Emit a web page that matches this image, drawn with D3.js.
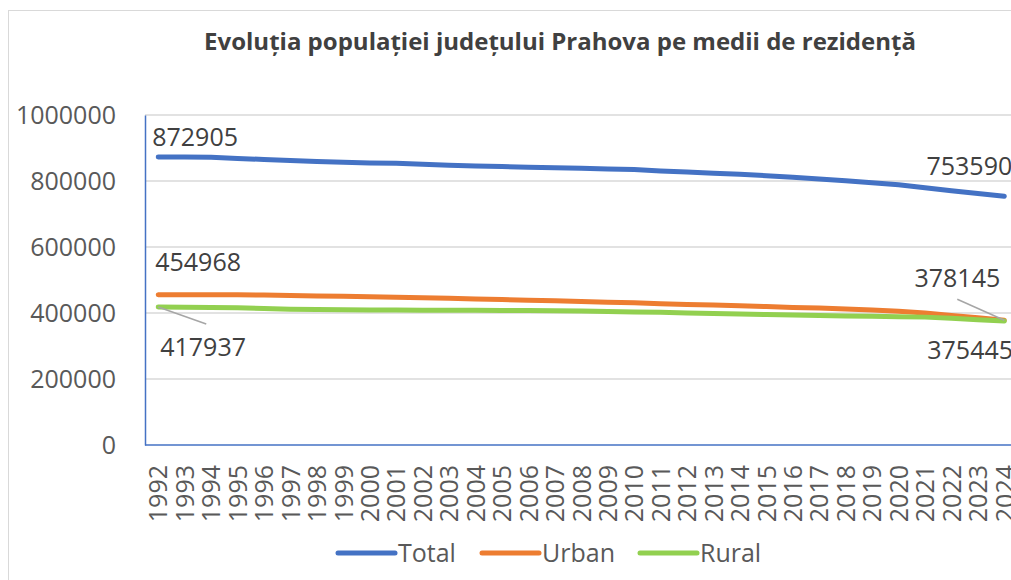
<!DOCTYPE html>
<html>
<head>
<meta charset="utf-8">
<script src="https://cdn.jsdelivr.net/npm/d3@7"></script>
<style>
  body { margin: 0; background: #fff; }
  text { font-family: "Open Sans", sans-serif; }
</style>
</head>
<body>
<script>
// chart size
const w = 1011;
const h = 580;

// data
const years = d3.range(1992, 2025).map(String);
const total = [872905, 872400, 871600, 868500, 865300, 862000, 859000, 856500, 854600, 853500,
  850400, 847600, 845300, 843600, 841900, 840000, 838300, 836200, 834500, 830600,
  827000, 823500, 820500, 816000, 811000, 806000, 800600, 794800, 788700, 779500,
  770200, 762400, 753590];
const urban = [454968, 455400, 455600, 455300, 454200, 453000, 451800, 450500, 449300, 447900,
  446500, 444500, 442400, 440800, 438900, 437000, 435000, 432800, 430800, 428200,
  426000, 424000, 421800, 419500, 417000, 414800, 412000, 408900, 405500, 399800,
  392800, 385500, 378145];
const rural = [417937, 417200, 416400, 415800, 413600, 411500, 410300, 409600, 409100, 408900,
  408600, 408400, 408200, 407700, 407200, 406600, 406100, 404800, 403400, 401900,
  400000, 398500, 397000, 395600, 394200, 392700, 391200, 389900, 388700, 387500,
  384000, 379800, 375445];
const yTicks = [0, 200000, 400000, 600000, 800000, 1000000];
const seriesNames = ["Total", "Urban", "Rural"];
const colors = ["#4472C4", "#ED7D31", "#92D050"];
const title = "Evoluția populației județului Prahova pe medii de rezidență";

const series = [total, urban, rural];

const svg = d3.select("body")
  .append("svg")
  .attr("width", w)
  .attr("height", h);

// chart area border
svg.append("rect")
  .attr("x", 8.5).attr("y", 10.5)
  .attr("width", 1200).attr("height", 800)
  .attr("fill", "#fff")
  .attr("stroke", "#d9d9d9")
  .attr("stroke-width", 1);

svg.append("text")
  .attr("x", 560)
  .attr("y", 50)
  .attr("text-anchor", "middle")
  .style("font-size", "24px")
  .style("font-weight", "bold")
  .style("fill", "#404040")
  .text(title);

const pLeft = 145, pRight = 1017.5, pTop = 115, pBottom = 445;

const xScale = d3.scalePoint()
  .domain(years)
  .range([pLeft, pRight])
  .padding(0.5);
const yScale = d3.scaleLinear()
  .domain([0, 1000000])
  .range([pBottom, pTop]);

// gridlines
svg.append("g")
  .selectAll("line")
  .data(yTicks.filter(d => d > 0))
  .enter()
  .append("line")
  .attr("x1", pLeft).attr("x2", w)
  .attr("y1", d => yScale(d)).attr("y2", d => yScale(d))
  .attr("stroke", "#d9d9d9")
  .attr("stroke-width", 1.5);

// y axis
const yAxis = d3.axisLeft(yScale).tickValues(yTicks).tickSize(0).tickPadding(29).tickFormat(d3.format("d"));
const gy = svg.append("g")
  .attr("transform", "translate(" + pLeft + ",0)")
  .call(yAxis);
gy.select(".domain").attr("stroke", "#4472C4").attr("stroke-width", 1.5);
gy.selectAll("text")
  .style("font-size", "25px")
  .style("fill", "#595959")
  .style("font-family", "Open Sans, sans-serif");

// x axis
const xAxis = d3.axisBottom(xScale).tickSize(0).tickSizeOuter(0);
const gx = svg.append("g")
  .attr("transform", "translate(0," + pBottom + ")")
  .call(xAxis);
gx.select(".domain").attr("d", "M" + pLeft + ",0H" + w).attr("stroke", "#4472C4").attr("stroke-width", 1.5);
gx.selectAll("text")
  .attr("transform", "rotate(-90)")
  .attr("x", -20)
  .attr("y", 0)
  .attr("dy", "0.35em")
  .attr("text-anchor", "end")
  .style("font-size", "25px")
  .style("fill", "#595959")
  .style("font-family", "Open Sans, sans-serif");

// lines
const line = d3.line()
  .x((d, i) => xScale(years[i]))
  .y(d => yScale(d));

svg.append("g")
  .selectAll("path")
  .data(series)
  .enter()
  .append("path")
  .attr("d", d => line(d))
  .attr("fill", "none")
  .attr("stroke", (d, i) => colors[i])
  .attr("stroke-width", 5)
  .attr("stroke-linecap", "round")
  .attr("stroke-linejoin", "round");

// data labels: [series, index, dx, dy, anchor, leader]
const first = 0, last = years.length - 1;
const labels = [
  [total, first, -6, -11, "start", null],
  [total, last, 8, -21, "end", null],
  [urban, first, -3, -24, "start", null],
  [urban, last, -4, -33, "end", [-47, -21]],
  [rural, first, 2, 49, "start", [48, 17]],
  [rural, last, -77, 38, "start", null]
];

labels.forEach(function(l) {
  const px = xScale(years[l[1]]);
  const py = yScale(l[0][l[1]]);
  if (l[5]) {
    svg.append("line")
      .attr("x1", px).attr("y1", py)
      .attr("x2", px + l[5][0]).attr("y2", py + l[5][1])
      .attr("stroke", "#a6a6a6")
      .attr("stroke-width", 1.5);
  }
  svg.append("text")
    .attr("x", px + l[2])
    .attr("y", py + l[3])
    .attr("text-anchor", l[4])
    .style("font-size", "25px")
    .style("fill", "#404040")
    .text(l[0][l[1]]);
});

// legend
const legendX = [338, 482, 640];
const lg = svg.append("g")
  .selectAll("g")
  .data(seriesNames)
  .enter()
  .append("g")
  .attr("transform", (d, i) => "translate(" + legendX[i] + ",553)");
lg.append("line")
  .attr("x1", 0).attr("x2", 57)
  .attr("stroke", (d, i) => colors[i])
  .attr("stroke-width", 5)
  .attr("stroke-linecap", "round");
lg.append("text")
  .attr("x", 60)
  .attr("dy", "0.35em")
  .style("font-size", "25px")
  .style("fill", "#595959")
  .text(d => d);
</script>
</body>
</html>
